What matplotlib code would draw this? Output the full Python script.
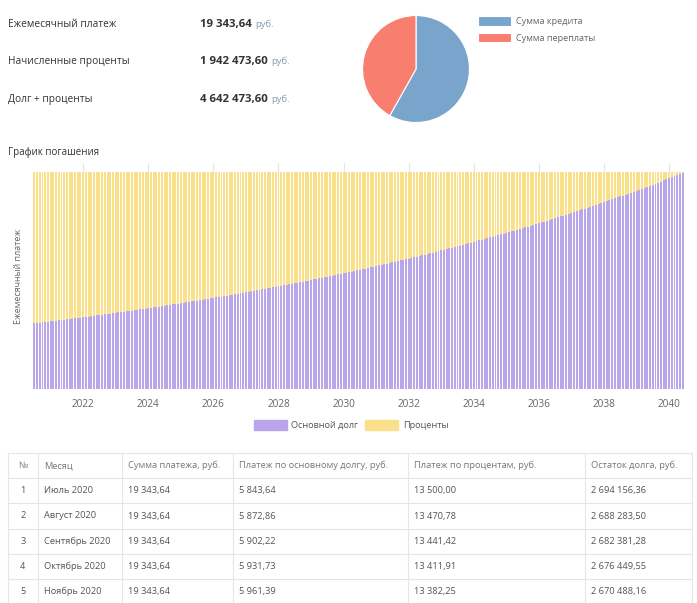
import matplotlib.pyplot as plt
from matplotlib.patches import Patch

plt.rcParams['font.family'] = ['Open Sans', 'DejaVu Sans']

# итоговые суммы
summary_labels = ["Ежемесячный платеж", "Начисленные проценты", "Долг + проценты"]
summary_values = ["19 343,64", "1 942 473,60", "4 642 473,60"]

# круговая диаграмма
pie_labels = ["Сумма кредита", "Сумма переплаты"]
pie_values = [2700000.00, 1942473.60]
pie_colors = ["#79a5cd", "#f87e70"]

# график погашения: 240 платежей, июль 2020 - июнь 2040
monthly_payment = 19343.64
principal = [
    5844, 5873, 5902, 5932, 5961, 5991, 6021, 6051, 6082, 6112, 6143, 6173,
    6204, 6235, 6266, 6298, 6329, 6361, 6393, 6425, 6457, 6489, 6521, 6554,
    6587, 6620, 6653, 6686, 6719, 6753, 6787, 6821, 6855, 6889, 6924, 6958,
    6993, 7028, 7063, 7098, 7134, 7170, 7205, 7241, 7278, 7314, 7351, 7387,
    7424, 7461, 7499, 7536, 7574, 7612, 7650, 7688, 7727, 7765, 7804, 7843,
    7882, 7922, 7961, 8001, 8041, 8081, 8122, 8162, 8203, 8244, 8285, 8327,
    8368, 8410, 8452, 8495, 8537, 8580, 8623, 8666, 8709, 8753, 8796, 8840,
    8885, 8929, 8974, 9018, 9064, 9109, 9154, 9200, 9246, 9292, 9339, 9386,
    9433, 9480, 9527, 9575, 9623, 9671, 9719, 9768, 9816, 9866, 9915, 9964,
    10014, 10064, 10115, 10165, 10216, 10267, 10318, 10370, 10422, 10474, 10526, 10579,
    10632, 10685, 10739, 10792, 10846, 10900, 10955, 11010, 11065, 11120, 11176, 11232,
    11288, 11344, 11401, 11458, 11515, 11573, 11631, 11689, 11747, 11806, 11865, 11924,
    11984, 12044, 12104, 12165, 12225, 12286, 12348, 12410, 12472, 12534, 12597, 12660,
    12723, 12787, 12851, 12915, 12979, 13044, 13110, 13175, 13241, 13307, 13374, 13441,
    13508, 13575, 13643, 13711, 13780, 13849, 13918, 13988, 14058, 14128, 14199, 14270,
    14341, 14413, 14485, 14557, 14630, 14703, 14777, 14850, 14925, 14999, 15074, 15150,
    15225, 15302, 15378, 15455, 15532, 15610, 15688, 15766, 15845, 15924, 16004, 16084,
    16164, 16245, 16327, 16408, 16490, 16573, 16655, 16739, 16822, 16907, 16991, 17076,
    17161, 17247, 17333, 17420, 17507, 17595, 17683, 17771, 17860, 17949, 18039, 18129,
    18220, 18311, 18403, 18495, 18587, 18680, 18773, 18867, 18962, 19056, 19152, 19247,
]
year_ticks = [2022, 2024, 2026, 2028, 2030, 2032, 2034, 2036, 2038, 2040]
first_year, first_month = 2020, 7

# таблица платежей
table_header = ["№", "Месяц", "Сумма платежа, руб.", "Платеж по основному долгу, руб.",
                "Платеж по процентам, руб.", "Остаток долга, руб."]
row_num = ["1", "2", "3", "4", "5"]
row_month = ["Июль 2020", "Август 2020", "Сентябрь 2020", "Октябрь 2020", "Ноябрь 2020"]
row_payment = ["19 343,64"] * 5
row_principal = ["5 843,64", "5 872,86", "5 902,22", "5 931,73", "5 961,39"]
row_interest = ["13 500,00", "13 470,78", "13 441,42", "13 411,91", "13 382,25"]
row_balance = ["2 694 156,36", "2 688 283,50", "2 682 381,28", "2 676 449,55", "2 670 488,16"]

W, H = 697, 603
fig = plt.figure(figsize=(W / 100, H / 100), dpi=100)


def fx(px):
    return px / W


def fy(py):
    return 1 - py / H


# ---- блок с итогами
renderer = fig.canvas.get_renderer()
for i, (lab, val) in enumerate(zip(summary_labels, summary_values)):
    y = [27, 64, 102][i]  # базовая линия текста
    fig.text(fx(8), fy(y), lab, fontsize=7.3, color="#333333", va="baseline")
    t = fig.text(fx(200), fy(y), val, fontsize=8.2, color="#333333",
                 fontweight="bold", va="baseline")
    bb = t.get_window_extent(renderer)
    fig.text(bb.x1 / W + fx(3), fy(y), "руб.", fontsize=6.8,
             color="#8a9aa8", va="baseline")

# ---- круговая диаграмма
cx, cy, r = 416, 69, 54
ax_pie = fig.add_axes([fx(cx - r), fy(cy + r), fx(2 * r), 2 * r / H])
wedges, _ = ax_pie.pie(pie_values, colors=pie_colors, startangle=90, counterclock=False,
                       wedgeprops=dict(edgecolor="white", linewidth=0.8))
ax_pie.set_xlim(-1.01, 1.01)
ax_pie.set_ylim(-1.01, 1.01)
ax_pie.set_aspect("equal")
fig.legend(wedges, pie_labels, loc="upper left", bbox_to_anchor=(fx(470), fy(8)),
           frameon=False, fontsize=6.6, labelcolor="#666666",
           handlelength=3.6, handleheight=1.2, handletextpad=0.5, labelspacing=0.75)

# ---- график погашения
fig.text(fx(8), fy(152), "График погашения", fontsize=7, color="#333333", va="center")

ax = fig.add_axes([fx(33), fy(389), fx(684 - 33), (389 - 163) / H])
n = len(principal)
x = list(range(n))
interest = [monthly_payment - p for p in principal]
b1 = ax.bar(x, principal, width=0.72, color="#b9a5e9", linewidth=0, zorder=2)
b2 = ax.bar(x, interest, bottom=principal, width=0.72, color="#fbe08c",
            linewidth=0, zorder=2)
ax.set_xlim(-0.5, n - 0.5)
ax.set_ylim(0, monthly_payment * 226 / 217)
tick_pos = [(y - first_year) * 12 + (1 - first_month) for y in year_ticks]
ax.set_xticks(tick_pos)
ax.set_xticklabels([str(y) for y in year_ticks], fontsize=7.2, color="#666666")
ax.set_yticks([])
ax.tick_params(axis="x", length=0, pad=7)
ax.grid(axis="x", color="#e6e6e6", linewidth=0.8, zorder=0)
for s in ax.spines.values():
    s.set_visible(False)
ax.set_ylabel("Ежемесячный платеж", fontsize=6.5, color="#666666", labelpad=7)

fig.legend([Patch(color="#b9a5e9"), Patch(color="#fbe08c")], ["Основной долг", "Проценты"],
           loc="center", bbox_to_anchor=(fx(351), fy(425)), ncol=2, frameon=False,
           fontsize=6.6, labelcolor="#555555", handlelength=3.6, handleheight=1.2,
           handletextpad=0.5, columnspacing=0.8)

# ---- таблица
tab = fig.add_axes([0, 0, 1, 1], zorder=-1)
tab.set_xlim(0, W)
tab.set_ylim(H, 0)
tab.axis("off")
col_edges = [8, 38, 122, 233, 408, 585, 692]
row_top = 453
row_h = 25.2
line_c = "#e6e6e6"
fs_tab = 6.7
rows = list(zip(row_num, row_month, row_payment, row_principal, row_interest, row_balance))
n_lines = len(rows) + 2
for k in range(n_lines):
    yy = row_top + k * row_h
    tab.plot([col_edges[0], col_edges[-1]], [yy, yy], color=line_c, linewidth=0.8)
for xe in col_edges:
    tab.plot([xe, xe], [row_top, H], color=line_c, linewidth=0.8)
for j, h in enumerate(table_header):
    if j == 0:
        tab.text((col_edges[0] + col_edges[1]) / 2, row_top + row_h / 2, h, fontsize=fs_tab,
                 color="#777777", ha="center", va="center")
    else:
        tab.text(col_edges[j] + 6, row_top + row_h / 2, h, fontsize=fs_tab,
                 color="#777777", va="center")
for i, row in enumerate(rows):
    yc = row_top + (i + 1.5) * row_h
    for j, val in enumerate(row):
        if j == 0:
            tab.text((col_edges[0] + col_edges[1]) / 2, yc, val, fontsize=fs_tab,
                     color="#555555", ha="center", va="center")
        else:
            tab.text(col_edges[j] + 6, yc, val, fontsize=fs_tab, color="#555555", va="center")

fig.savefig("out.png", dpi=100)
